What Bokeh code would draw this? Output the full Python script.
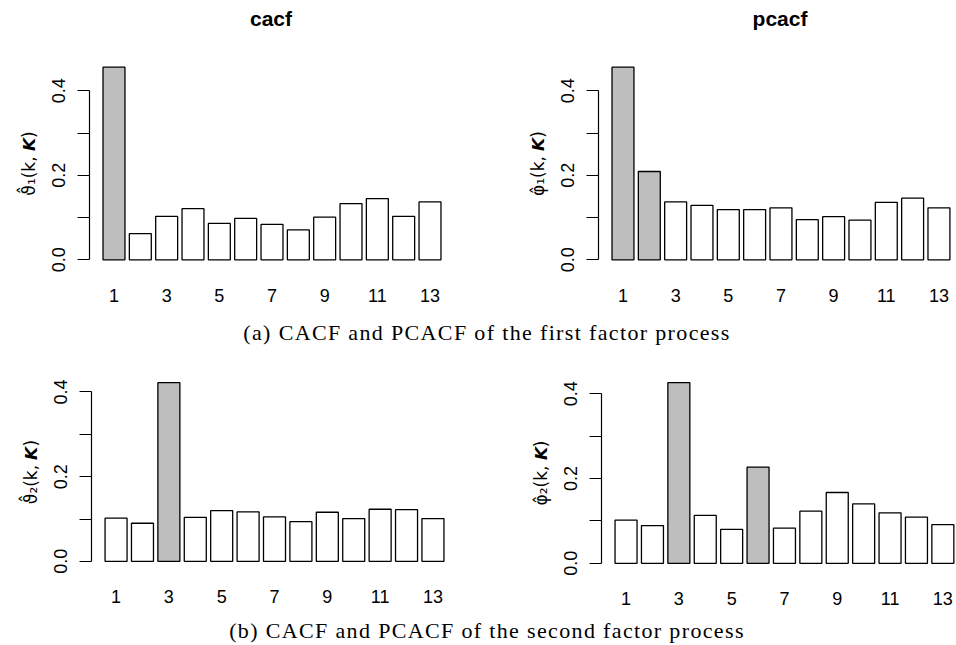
from bokeh.plotting import figure
from bokeh.models import Range1d, FixedTicker, ColumnDataSource, Div, PrintfTickFormatter
from bokeh.layouts import column, row
from bokeh.embed import file_html
from bokeh.resources import INLINE

# ---------------- data ----------------
lags = list(range(1, 14))
cacf_f1 = [0.456, 0.062, 0.103, 0.121, 0.086, 0.098, 0.084, 0.071, 0.101, 0.133, 0.145, 0.103, 0.137]
pcacf_f1 = [0.456, 0.209, 0.137, 0.129, 0.119, 0.119, 0.123, 0.095, 0.102, 0.094, 0.136, 0.146, 0.123]
cacf_f2 = [0.102, 0.090, 0.422, 0.104, 0.120, 0.117, 0.105, 0.094, 0.116, 0.101, 0.123, 0.122, 0.101]
pcacf_f2 = [0.102, 0.089, 0.426, 0.113, 0.080, 0.227, 0.083, 0.123, 0.167, 0.140, 0.119, 0.109, 0.091]
sig_cacf_f1 = [1]
sig_pcacf_f1 = [1, 2]
sig_cacf_f2 = [3]
sig_pcacf_f2 = [3, 6]
x_tick_labels = [1, 3, 5, 7, 9, 11, 13]
y_ticks = [0.0, 0.1, 0.2, 0.3, 0.4]
y_tick_hidden = [0.1, 0.3]
titles = ["cacf", "pcacf"]
ylabels = ["ϑ̂₁(k, 𝙆)", "φ̂₁(k, 𝙆)", "ϑ̂₂(k, 𝙆)", "φ̂₂(k, 𝙆)"]
captions = ["(a) CACF and PCACF of the first factor process",
            "(b) CACF and PCACF of the second factor process"]

SANS = "Liberation Sans"
X0 = 0.07
BAR_W = 1 / 1.2


def panel(vals, sig, ylab, sx, sy, y0_page, fig_top, b_left, b_right, b_bottom, x_end):
    m = max(vals)
    ylo, yhi = -0.04 * m, 1.04 * m
    fh = round((yhi - ylo) * sy)
    fw = round((x_end - X0) * sx)
    b_top = round(y0_page - yhi * sy - fig_top)
    p = figure(frame_width=fw, frame_height=fh,
               x_range=Range1d(X0, x_end), y_range=Range1d(ylo, yhi),
               output_backend="svg", toolbar_location=None,
               min_border_left=b_left, min_border_right=b_right,
               min_border_top=b_top, min_border_bottom=b_bottom)
    p.outline_line_color = None
    p.xgrid.visible = False
    p.ygrid.visible = False
    p.background_fill_color = "white"
    p.border_fill_color = "white"

    colors = ["#bebebe" if k in sig else "white" for k in lags]
    src = ColumnDataSource(dict(lag=lags, val=vals, color=colors))
    p.vbar(x="lag", top="val", bottom=0, width=BAR_W, source=src,
           fill_color="color", line_color="black", line_width=1.3)

    # y axis
    ya = p.yaxis[0]
    ya.ticker = FixedTicker(ticks=y_ticks)
    ya.formatter = PrintfTickFormatter(format="%.1f")
    ya.major_label_overrides = {t: "" for t in y_tick_hidden}
    ya.bounds = (y_ticks[0], y_ticks[-1])
    ya.major_label_orientation = "vertical"
    ya.major_tick_out = 12
    ya.major_tick_in = 0
    ya.minor_tick_line_color = None
    ya.axis_line_color = "black"
    ya.axis_line_width = 1.2
    ya.major_tick_line_color = "black"
    ya.major_tick_line_width = 1.2
    ya.major_label_text_font = SANS
    ya.major_label_text_font_size = "18px"
    ya.major_label_text_color = "black"
    ya.major_label_standoff = 12
    ya.axis_label = ylab
    ya.axis_label_text_font = "DejaVu Sans"
    ya.axis_label_text_font_size = "17px"
    ya.axis_label_text_font_style = "normal"
    ya.axis_label_text_color = "black"
    ya.axis_label_standoff = 11

    # x axis
    xa = p.xaxis[0]
    xa.ticker = FixedTicker(ticks=x_tick_labels)
    xa.axis_line_color = None
    xa.major_tick_line_color = None
    xa.minor_tick_line_color = None
    xa.major_label_text_font = SANS
    xa.major_label_text_font_size = "18px"
    xa.major_label_text_color = "black"
    xa.major_label_standoff = 15
    return p


# panel titles (row above the first row of plots)
title_html = (
    '<div style="position:relative;width:955px;height:40px;">'
    f'<span style="position:absolute;left:271px;top:0;transform:translateX(-50%);'
    f'font-family:\'{SANS}\';font-weight:bold;font-size:21px;line-height:37px;color:black;">{titles[0]}</span>'
    f'<span style="position:absolute;left:780px;top:0;transform:translateX(-50%);'
    f'font-family:\'{SANS}\';font-weight:bold;font-size:21px;line-height:37px;color:black;">{titles[1]}</span>'
    '</div>')
t_div = Div(text=title_html, width=955, height=40, margin=0)

top1 = 40
p1 = panel(cacf_f1, sig_cacf_f1, ylabels[0], 26.33, 422, 259.3, top1, 89, 63, 43, 13.93)
p2 = panel(pcacf_f1, sig_pcacf_f1, ylabels[1], 26.33, 422, 259.3, top1, 81, 0, 43, X0 + 357 / 26.33)

top2 = 356
p3 = panel(cacf_f2, sig_cacf_f2, ylabels[2], 26.4, 424, 561.3, top2, 91, 61, 43, 13.93)
p4 = panel(pcacf_f2, sig_pcacf_f2, ylabels[3], 26.4, 424, 561.3, top2, 83, 0, 43, X0 + 354 / 26.4)


def caption(txt, h, lh, pad_top):
    html = ('<div style="width:922px;margin-left:26px;text-align:center;'
            'font-family:\'Liberation Serif\';font-size:22px;letter-spacing:1.35px;'
            f'line-height:{lh}px;padding-top:{pad_top}px;color:black;white-space:nowrap;">{txt}</div>')
    return Div(text=html, width=950, height=h, margin=0)


r1 = row(p1, p2, spacing=0)
r2 = row(p3, p4, spacing=0)
c1 = caption(captions[0], 46, 46, 0)
c2 = caption(captions[1], 34, 24, 7.6)
layout = column(t_div, r1, c1, r2, c2, spacing=0)

open("out.html", "w").write(file_html(layout, INLINE))
